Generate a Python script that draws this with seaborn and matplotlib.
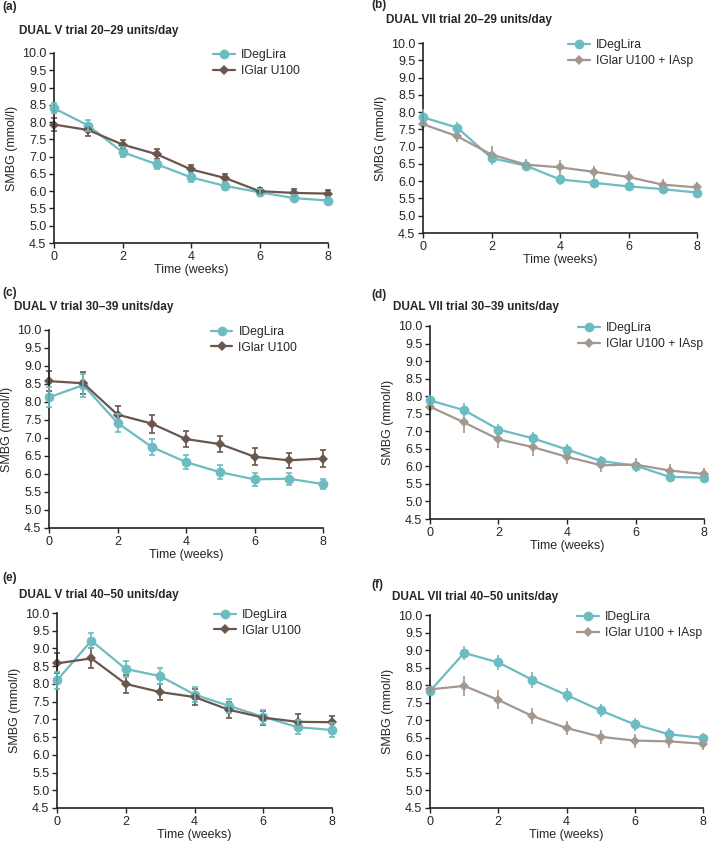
import numpy as np
import pandas as pd
import matplotlib
matplotlib.use('Agg')
import matplotlib.pyplot as plt
import seaborn as sns

weeks = [0, 1, 2, 3, 4, 5, 6, 7, 8]

# (a) DUAL V 20-29
a_ideg = [8.40, 7.90, 7.13, 6.78, 6.40, 6.15, 5.97, 5.80, 5.73]
a_ideg_err = [0.15, 0.15, 0.14, 0.13, 0.12, 0.11, 0.10, 0.09, 0.09]
a_comp = [7.93, 7.77, 7.35, 7.07, 6.63, 6.38, 6.00, 5.95, 5.93]
a_comp_err = [0.20, 0.16, 0.14, 0.14, 0.13, 0.12, 0.10, 0.10, 0.10]

# (b) DUAL VII 20-29
b_ideg = [7.85, 7.55, 6.67, 6.45, 6.05, 5.95, 5.85, 5.77, 5.67]
b_ideg_err = [0.25, 0.17, 0.20, 0.15, 0.17, 0.15, 0.12, 0.13, 0.13]
b_comp = [7.65, 7.30, 6.77, 6.48, 6.40, 6.27, 6.12, 5.90, 5.82]
b_comp_err = [0.20, 0.17, 0.25, 0.15, 0.20, 0.17, 0.17, 0.15, 0.17]

# (c) DUAL V 30-39
c_ideg = [8.13, 8.47, 7.42, 6.75, 6.33, 6.05, 5.85, 5.87, 5.72]
c_ideg_err = [0.28, 0.32, 0.25, 0.22, 0.20, 0.19, 0.18, 0.17, 0.15]
c_comp = [8.58, 8.52, 7.65, 7.40, 6.97, 6.83, 6.48, 6.38, 6.43]
c_comp_err = [0.28, 0.30, 0.25, 0.25, 0.23, 0.23, 0.23, 0.21, 0.23]

# (d) DUAL VII 30-39
d_ideg = [7.88, 7.60, 7.05, 6.80, 6.48, 6.15, 6.02, 5.70, 5.68]
d_ideg_err = [0.15, 0.20, 0.17, 0.17, 0.15, 0.15, 0.12, 0.13, 0.13]
d_comp = [7.70, 7.25, 6.77, 6.55, 6.27, 6.03, 6.05, 5.88, 5.78]
d_comp_err = [0.20, 0.30, 0.25, 0.25, 0.20, 0.20, 0.20, 0.20, 0.17]

# (e) DUAL V 40-50
e_ideg = [8.10, 9.22, 8.42, 8.22, 7.70, 7.38, 7.07, 6.78, 6.70]
e_ideg_err = [0.25, 0.22, 0.22, 0.22, 0.20, 0.20, 0.20, 0.20, 0.20]
e_comp = [8.58, 8.72, 8.00, 7.77, 7.63, 7.27, 7.05, 6.93, 6.92]
e_comp_err = [0.28, 0.28, 0.25, 0.22, 0.22, 0.22, 0.20, 0.22, 0.18]

# (f) DUAL VII 40-50
f_ideg = [7.83, 8.92, 8.65, 8.15, 7.72, 7.28, 6.88, 6.60, 6.50]
f_ideg_err = [0.15, 0.20, 0.22, 0.22, 0.20, 0.18, 0.18, 0.17, 0.15]
f_comp = [7.88, 7.98, 7.58, 7.12, 6.78, 6.53, 6.42, 6.40, 6.33]
f_comp_err = [0.30, 0.28, 0.27, 0.22, 0.20, 0.20, 0.20, 0.18, 0.18]

panels = [
    ('(a)', 'DUAL V trial 20–29 units/day', 'IGlar U100', a_ideg, a_ideg_err, a_comp, a_comp_err),
    ('(b)', 'DUAL VII trial 20–29 units/day', 'IGlar U100 + IAsp', b_ideg, b_ideg_err, b_comp, b_comp_err),
    ('(c)', 'DUAL V trial 30–39 units/day', 'IGlar U100', c_ideg, c_ideg_err, c_comp, c_comp_err),
    ('(d)', 'DUAL VII trial 30–39 units/day', 'IGlar U100 + IAsp', d_ideg, d_ideg_err, d_comp, d_comp_err),
    ('(e)', 'DUAL V trial 40–50 units/day', 'IGlar U100', e_ideg, e_ideg_err, e_comp, e_comp_err),
    ('(f)', 'DUAL VII trial 40–50 units/day', 'IGlar U100 + IAsp', f_ideg, f_ideg_err, f_comp, f_comp_err),
]

# pixel boxes: left, right, top, bottom ; title x,y ; label x,y ; legend x (axes frac)
boxes = [
    (54, 328, 53, 243, 19, 31, 2, 7, 0.58),
    (423, 697, 43, 233, 386, 20, 371, 5, 0.53),
    (49, 323, 330, 528, 14, 307, 2, 293, 0.59),
    (430, 704, 326, 519, 393, 307, 371, 295, 0.54),
    (57, 332, 613, 808, 19, 595, 2, 578, 0.57),
    (430, 703, 615, 808, 392, 597, 371, 585, 0.54),
]

W, H = 709, 844
sns.set_style('ticks')
plt.rcParams['font.family'] = ['Liberation Sans', 'DejaVu Sans']

teal = '#6cbcc1'
dark = '#6a564c'
grey = '#a39890'
fs = 9

fig = plt.figure(figsize=(W / 100, H / 100), dpi=100)

for (lab, title, comp_name, ideg, ideg_err, comp, comp_err), box in zip(panels, boxes):
    l, r, t, b, tx, ty, lx, ly, legx = box
    ax = fig.add_axes([l / W, 1 - b / H, (r - l) / W, (b - t) / H])
    comp_col = dark if comp_name == 'IGlar U100' else grey
    caps = 2 if comp_name == 'IGlar U100' else 0

    df = pd.DataFrame({
        'week': weeks * 2,
        'smbg': ideg + comp,
        'arm': ['IDegLira'] * 9 + [comp_name] * 9,
    })
    ax.errorbar(weeks, comp, yerr=comp_err, fmt='none', ecolor=comp_col,
                elinewidth=1.2, capsize=caps, capthick=1.2, clip_on=False, zorder=2)
    ax.errorbar(weeks, ideg, yerr=ideg_err, fmt='none', ecolor=teal,
                elinewidth=1.2, capsize=caps, capthick=1.2, clip_on=False, zorder=3)
    sns.lineplot(data=df, x='week', y='smbg', hue='arm', style='arm',
                 palette={'IDegLira': teal, comp_name: comp_col},
                 markers={'IDegLira': 'o', comp_name: 'D'},
                 dashes=False, linewidth=1.6, markersize=7, markeredgewidth=0,
                 ax=ax)
    for line in ax.get_lines():
        line.set_clip_on(False)
        if line.get_marker() == 'D':
            line.set_markersize(5.5)

    ax.set_xlim(0, 8)
    ax.set_ylim(4.5, 10.0)
    ax.set_xticks([0, 2, 4, 6, 8])
    yt = np.arange(4.5, 10.01, 0.5)
    ax.set_yticks(yt)
    ax.set_yticklabels([f'{v:.1f}' for v in yt])
    ax.tick_params(labelsize=fs, length=3.5, width=1, color='#222222', pad=2)
    for s in ['left', 'bottom']:
        ax.spines[s].set_linewidth(1.2)
        ax.spines[s].set_color('#222222')
    sns.despine(ax=ax)
    ax.set_xlabel('Time (weeks)', fontsize=fs, labelpad=1)
    ax.set_ylabel('SMBG (mmol/l)', fontsize=fs, labelpad=3)

    leg = ax.legend(loc='upper left', frameon=False, fontsize=8.7,
                    handlelength=1.8, handletextpad=0.5, labelspacing=0.3,
                    borderpad=0, borderaxespad=0, bbox_to_anchor=(legx, 1.02))
    for h in leg.legend_handles:
        if h.get_marker() == 'D':
            h.set_markersize(5.5)

    fig.text(tx / W, 1 - ty / H, title, fontsize=8.5, fontweight='bold',
             ha='left', va='center')
    fig.text(lx / W, 1 - ly / H, lab, fontsize=8.5, fontweight='bold',
             ha='left', va='center')

fig.savefig('out.png', dpi=100)
